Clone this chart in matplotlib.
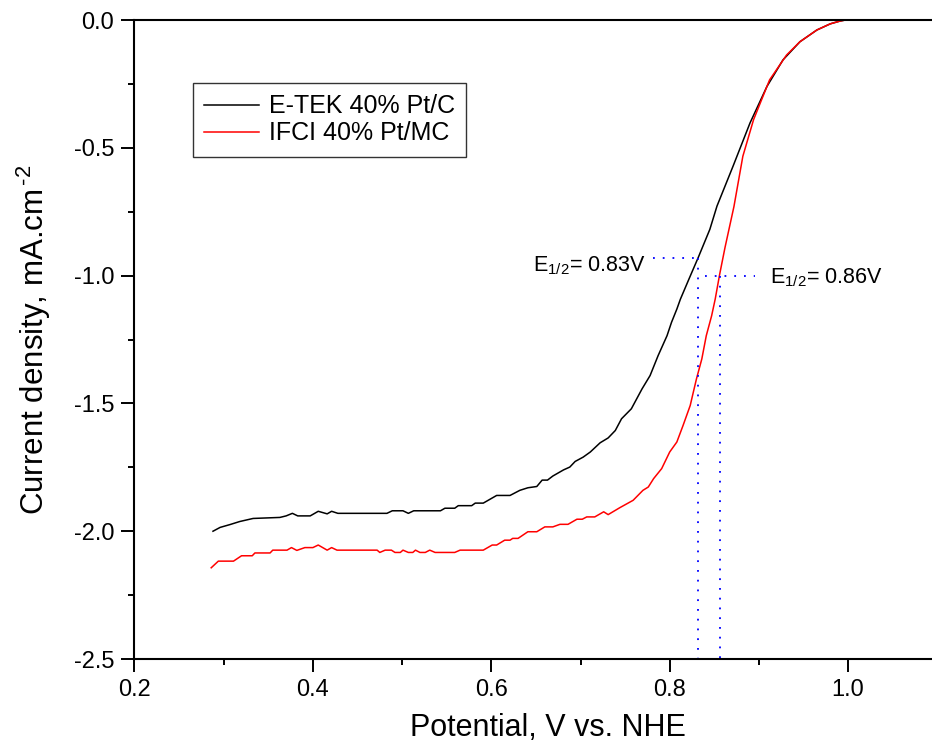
import numpy as np
import matplotlib
matplotlib.use("Agg")
import matplotlib.pyplot as plt
from matplotlib.ticker import MultipleLocator, FormatStrFormatter

plt.rcParams['font.family'] = ['Liberation Sans', 'DejaVu Sans']
plt.rcParams['mathtext.fontset'] = 'custom'
plt.rcParams['mathtext.rm'] = 'Liberation Sans'
plt.rcParams['mathtext.it'] = 'Liberation Sans:italic'
plt.rcParams['axes.unicode_minus'] = False

# E-TEK 40% Pt/C (black)
etek_x = [0.288, 0.296, 0.307, 0.318, 0.333, 0.363, 0.370, 0.377, 0.383, 0.397,
          0.406, 0.416, 0.421, 0.428, 0.483, 0.489, 0.501, 0.507, 0.513, 0.543,
          0.548, 0.559, 0.563, 0.578, 0.582, 0.591, 0.606, 0.621, 0.632, 0.641,
          0.651, 0.657, 0.663, 0.669, 0.681, 0.688, 0.694, 0.703, 0.711, 0.722,
          0.731, 0.739, 0.746, 0.757, 0.763, 0.769, 0.778, 0.787, 0.797, 0.802,
          0.808, 0.812, 0.822, 0.832, 0.845, 0.853, 0.871, 0.890, 0.909, 0.927,
          0.946, 0.965, 0.980, 0.991, 0.997]
etek_j = [-2.000, -1.985, -1.974, -1.962, -1.950, -1.946, -1.940, -1.930, -1.940, -1.940,
          -1.922, -1.932, -1.922, -1.930, -1.930, -1.920, -1.920, -1.930, -1.920, -1.920,
          -1.910, -1.910, -1.900, -1.900, -1.890, -1.890, -1.860, -1.860, -1.840, -1.830,
          -1.825, -1.800, -1.800, -1.784, -1.760, -1.749, -1.727, -1.710, -1.690, -1.654,
          -1.635, -1.606, -1.560, -1.521, -1.482, -1.443, -1.391, -1.313, -1.235, -1.183,
          -1.131, -1.092, -1.010, -0.929, -0.819, -0.728, -0.572, -0.403, -0.260, -0.156,
          -0.085, -0.039, -0.015, -0.004, 0.000]

# IFCI 40% Pt/MC (red)
ifci_x = [0.286, 0.294, 0.311, 0.320, 0.332, 0.335, 0.352, 0.355, 0.371, 0.376,
          0.382, 0.391, 0.400, 0.406, 0.416, 0.421, 0.427, 0.472, 0.475, 0.481,
          0.488, 0.492, 0.498, 0.501, 0.507, 0.512, 0.515, 0.520, 0.526, 0.531,
          0.537, 0.559, 0.565, 0.591, 0.601, 0.606, 0.615, 0.621, 0.624, 0.630,
          0.641, 0.651, 0.660, 0.669, 0.677, 0.686, 0.696, 0.702, 0.707, 0.716,
          0.726, 0.731, 0.744, 0.759, 0.770, 0.776, 0.782, 0.791, 0.800, 0.808,
          0.815, 0.823, 0.826, 0.830, 0.836, 0.841, 0.847, 0.851, 0.856, 0.862,
          0.867, 0.872, 0.882, 0.894, 0.912, 0.931, 0.946, 0.965, 0.980, 0.991,
          0.997]
ifci_j = [-2.143, -2.117, -2.117, -2.096, -2.096, -2.085, -2.085, -2.074, -2.074, -2.064,
          -2.075, -2.064, -2.064, -2.054, -2.074, -2.064, -2.074, -2.074, -2.083, -2.074,
          -2.074, -2.083, -2.083, -2.074, -2.083, -2.083, -2.074, -2.083, -2.083, -2.074,
          -2.083, -2.083, -2.074, -2.074, -2.054, -2.054, -2.035, -2.035, -2.028, -2.028,
          -2.002, -2.002, -1.983, -1.983, -1.973, -1.973, -1.953, -1.953, -1.944, -1.944,
          -1.924, -1.935, -1.908, -1.879, -1.840, -1.827, -1.794, -1.755, -1.690, -1.651,
          -1.586, -1.508, -1.463, -1.404, -1.326, -1.235, -1.157, -1.092, -0.995, -0.890,
          -0.810, -0.730, -0.533, -0.390, -0.234, -0.137, -0.085, -0.039, -0.015, -0.004,
          0.000]

# half-wave potentials and guide lines
e_half = [0.832, 0.856]
j_half = [-0.93, -1.00]
guide_start = [0.781, 0.840]
guide_end = [0.832, 0.896]
e_labels = ['E$_{\\mathrm{1/2}}$= 0.83V', 'E$_{\\mathrm{1/2}}$= 0.86V']
label_pos = [(0.647, -0.982), (0.912, -1.030)]

fig = plt.figure(figsize=(9.32, 7.44), dpi=100)
ax = fig.add_axes([0.1443, 0.1142, 0.8614, 0.8589])

ax.plot(etek_x, etek_j, color='black', lw=1.1, label='E-TEK 40% Pt/C')
ax.plot(ifci_x, ifci_j, color='#ff0000', lw=1.1, label='IFCI 40% Pt/MC')

for i in range(2):
    ax.plot([guide_start[i], guide_end[i]], [j_half[i], j_half[i]],
            color='#0000ff', lw=1.3, dashes=(1, 4.4))
    ax.plot([e_half[i], e_half[i]], [j_half[i], -2.5],
            color='#0000ff', lw=1.3, dashes=(1, 4.4))
    ax.text(label_pos[i][0], label_pos[i][1], e_labels[i], fontsize=15.5,
            ha='left', va='baseline')

ax.set_xlim(0.2, 1.1)
ax.set_ylim(-2.5, 0.0)
ax.xaxis.set_major_locator(MultipleLocator(0.2))
ax.xaxis.set_minor_locator(MultipleLocator(0.1))
ax.yaxis.set_major_locator(MultipleLocator(0.5))
ax.yaxis.set_minor_locator(MultipleLocator(0.25))
ax.xaxis.set_major_formatter(FormatStrFormatter('%.1f'))
ax.yaxis.set_major_formatter(FormatStrFormatter('%.1f'))

for s in ['left', 'bottom', 'top']:
    ax.spines[s].set_linewidth(1.5)
ax.spines['right'].set_visible(False)

ax.tick_params(which='major', direction='out', length=9.5, width=1.4, labelsize=17, pad=5)
ax.tick_params(which='minor', direction='out', length=4.5, width=1.4)

ax.set_xlabel('Potential, V vs. NHE', fontsize=22)
ax.set_ylabel('Current density, mA.cm$^{\\,\\mathrm{\u2010}2}$', fontsize=22.5)
ax.xaxis.set_label_coords(0.515, -0.085)
ax.yaxis.set_label_coords(-0.102, 0.5)

leg = ax.legend(loc='upper left', bbox_to_anchor=(193 / 932, 1 - 83 / 744),
                bbox_transform=fig.transFigure, fontsize=18, frameon=True,
                fancybox=False, borderaxespad=0, handlelength=2.2,
                handletextpad=0.38, labelspacing=0.12, borderpad=0.45)
leg.get_frame().set_edgecolor('black')
leg.get_frame().set_linewidth(1.0)

fig.savefig('out.png', dpi=100)
